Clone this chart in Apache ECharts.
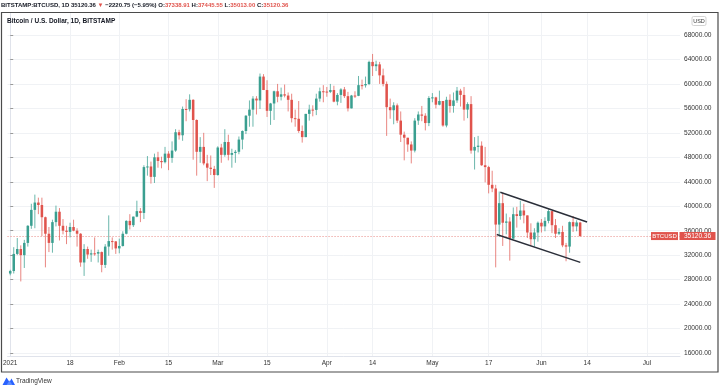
<!DOCTYPE html>
<html><head><meta charset="utf-8">
<script src="https://cdn.jsdelivr.net/npm/echarts@6/dist/echarts.min.js"></script>
<style>html,body{margin:0;padding:0;background:#fff}#c{width:720px;height:390px}</style>
</head><body><div id="c"></div>
<script>
// Daily candles starting 2021-01-01, each row: [open, high, low, close]
const jan = [
[28990,29600,28700,29400],[29400,33300,29000,32200],[32200,34800,32000,33000],[33000,33600,27700,32000],
[32000,34500,29900,34000],[34000,36900,33400,36800],[36800,40400,36300,39400],[39400,41900,36400,40600],
[40600,41400,38700,40200],[40200,41400,35100,38200],[38200,38300,30000,35500],[35500,36600,32500,34000],
[34000,37800,32400,37400],[37400,40100,36700,39100],[39100,39700,34400,36800],[36800,37900,35400,36000],
[36000,36800,33800,35800],[35800,37300,34900,36600],[36600,37800,35900,36000],[36000,36400,33400,35500],
[35500,35600,30100,30800],[30800,33800,28600,33000],[33000,33400,31400,32100],[32100,32900,30900,32300],
[32300,34900,31900,32250],[32250,32900,30800,32500],[32500,32600,29200,30400],[30400,33800,29900,33400],
[33400,38500,31900,34300],[34300,34900,32900,34250],[34250,34300,32200,33100]];
const feb = [
[33100,34700,32300,33500],[33500,35900,33400,35500],[35500,37700,35400,37600],[37600,38700,36200,36900],
[36900,38300,36600,38300],[38300,40900,38200,39200],[39200,39700,37400,38900],[38900,46700,37900,46400],
[46400,48200,45000,46500],[46500,47300,43700,44800],[44800,48600,43800,48000],[48000,48900,46300,47400],
[47400,48100,46200,47200],[47200,49700,47000,48600],[48600,49000,45900,47900],[47900,50600,47100,49100],
[49100,52600,48900,52100],[52100,52500,50900,51600],[51600,56300,50700,55900],[55900,57500,53900,55850],
[55850,58300,55500,57400],[57400,57500,47600,54100],[54100,54200,45000,48900],[48900,51300,47100,49700],
[49700,52000,46700,47000],[47000,48400,44100,46300],[46300,48300,45100,46100],[46100,46600,43000,45100]];
const mar = [
[45100,49800,45000,49600],[49600,50200,47100,48400],[48400,52600,48100,50500],[50500,51700,47500,48400],
[48400,49400,46300,48700],[48700,49200,47100,48900],[48900,51400,48500,50900],[50900,52400,49300,52300],
[52300,54900,51800,54800],[54800,57300,53000,55800],[55800,58000,53000,57600],[57600,58000,55000,57300],
[57300,61700,55900,61200],[61200,61600,59000,59000],[59000,60600,54600,55600],[55600,56900,53300,56800],
[56800,58900,54100,58800],[58800,60000,57000,57900],[57900,59400,57300,58300],[58300,59900,57800,58100],
[58100,58600,55500,57400],[57400,58400,53700,54400],[54400,55800,53000,54300],[54300,57200,52000,52300],
[52300,53200,50400,51300],[51300,55100,51300,55100],[55100,56600,54000,55800],[55800,56500,54700,55750],
[55750,58400,54900,57600],[57600,59400,57100,58800],[58800,59800,57000,58750]];
const apr = [
[58750,59500,57900,58700],[58700,60000,58500,59000],[59000,59700,57000,57100],[57100,58500,56500,58200],
[58200,59300,56900,59100],[59100,59500,57700,58000],[58000,58700,55500,56000],[56000,58200,56000,58100],
[58100,58800,57700,58050],[58050,61300,58000,59800],[59800,60700,59100,59770],[59770,61200,59400,59990],
[59990,63800,59800,63600],[63600,64900,61300,62900],[62900,63800,62100,63200],[63200,63600,60000,61400],
[61400,62500,59600,60000],[60000,60400,51500,56200],[56200,57600,54300,55700],[55700,57000,53400,56500],
[56500,56800,53600,54000],[54000,55500,50500,51700],[51700,52200,47500,51200],[51200,51200,48900,50100],
[50100,50600,47000,49100],[49100,54400,48800,54000],[54000,55500,53300,55000],[55000,56400,53900,54800],
[54800,55200,52400,53600],[53600,58000,53100,57700]];
const may = [
[57700,58500,57000,57800],[57800,57900,56000,56600],[56600,58900,56500,57200],[57200,57200,53000,53200],
[53200,57900,52900,57400],[57400,58300,55300,56400],[56400,58600,55300,57300],[57300,59500,56900,58900],
[58900,59200,56300,58200],[58200,59500,54000,55800],[55800,57000,54400,56700],[56700,58000,48600,49100],
[49100,51300,46000,49700],[49700,51500,48800,49900],[49900,50600,46600,46700],[46700,49700,43900,46400],
[46400,46600,42100,43500],[43500,45800,42300,42900],[42900,43500,30000,37000],[37000,42400,35000,40500],
[40500,42200,33500,37300],[37300,38800,35400,37500],[37500,38200,31100,34700],[34700,39800,34600,38700],
[38700,39900,36500,38400],[38400,40900,37800,39300],[39300,40400,37200,38500],[38500,38500,34800,35700],
[35700,37200,33600,34600],[34600,36400,33400,35700],[35700,37500,34200,37300]];
const jun = [
[37300,37900,35700,36700],[36700,38200,35900,37600],[37600,39500,37200,39200],[39200,39200,35600,36900],
[36900,37900,34800,35500],[35500,36400,35300,35800],[35800,36800,33300,33600],[33600,34000,31000,33400],
[33400,37500,32400,37400],[37400,38400,35800,36700],[36700,37700,35900,37341.11],[37338.91,37445.55,35013.00,35120.36]];

// Time axis tick labels (day index from 2021-01-01)
const tickDays = [0,17,31,45,59,73,90,103,120,136,151,164,181];
const tickLabels = ['2021','18','Feb','15','Mar','15','Apr','14','May','17','Jun','14','Jul'];
// Price axis ticks
const priceTicks = [16000,20000,24000,28000,32000,36000,40000,44000,48000,52000,56000,60000,64000,68000];
// Drawn channel lines: [day index, price]
const channelUpper = [[139.3,42280],[163.97,37420]];
const channelLower = [[138.3,35375],[162.05,30830]];

const candles = [].concat(jan,feb,mar,apr,may,jun);
const seriesData = candles.map((r,i)=>[i, r[0], r[1], r[2], r[3]]);
const last = candles[candles.length-1];
const prev = candles[candles.length-2];
const lastClose = last[3];
const chg = lastClose - prev[3];
const pct = chg/prev[3]*100;

const UP = '#3a9f90', DOWN = '#e0534c';
const UPW = 'rgba(58,159,144,0.75)', DOWNW = 'rgba(224,83,76,0.7)';
const FONT = 'Liberation Sans, Arial, sans-serif';
const HF = 6.0;

const chart = echarts.init(document.getElementById('c'), null, {renderer:'canvas'});
const fmt = v => v.toFixed(2);
const minus = s => s.replace('-', '\u2212');

const option = {
  animation:false,
  backgroundColor:'#ffffff',
  title:[
    {left:1, top:1, padding:0,
     text:'{b|BITSTAMP:BTCUSD, 1D} {n|'+fmt(lastClose)+'} {r|\u25BC} {n|'+minus(fmt(chg))+' ('+minus(pct.toFixed(2))+'%)} '+
          '{b|O:}{r|'+fmt(last[0])+'} {b|H:}{r|'+fmt(last[1])+'} {b|L:}{r|'+fmt(last[2])+'} {b|C:}{r|'+fmt(last[3])+'}',
     textStyle:{fontFamily:FONT, fontSize:HF, lineHeight:8,
       rich:{b:{fontFamily:FONT,fontSize:HF,fontWeight:'bold',color:'#131722'},
             n:{fontFamily:FONT,fontSize:HF,color:'#131722'},
             r:{fontFamily:FONT,fontSize:HF,color:'#e0534c'}}}},
    {left:7, top:17.5, padding:0, text:'Bitcoin / U.S. Dollar, 1D, BITSTAMP',
     textStyle:{fontFamily:FONT, fontSize:6.5, fontWeight:'bold', color:'#131722', lineHeight:8}}
  ],
  grid:{left:2, right:40, top:13, bottom:34, containLabel:false},
  xAxis:{type:'value', min:-0.761, max:190.39,
    axisLine:{show:true, lineStyle:{color:'#e0e3eb'}},
    axisTick:{show:false, customValues:tickDays},
    axisLabel:{customValues:tickDays, fontFamily:FONT, fontSize:6.5, color:'#333', margin:4,
      formatter:v=>{const k=tickDays.indexOf(v); return k>=0?tickLabels[k]:'';}},
    splitLine:{show:true, lineStyle:{color:'#f0f2f5', width:1}}},
  yAxis:{type:'value', position:'right', min:15506, max:71598, scale:true,
    axisLine:{show:true, lineStyle:{color:'#e0e3eb'}},
    axisTick:{show:true, length:3, customValues:priceTicks, lineStyle:{color:'#999'}},
    axisLabel:{customValues:priceTicks, fontFamily:FONT, fontSize:6.6, color:'#333', margin:4,
      formatter:v=>v.toFixed(2)},
    splitLine:{show:true, lineStyle:{color:'#f0f2f5', width:1}}},
  series:[
    {type:'custom', name:'BTCUSD', data:seriesData, z:5,
     encode:{x:0, y:[1,2,3,4]},
     renderItem:(params, api)=>{
       const x=api.value(0), o=api.value(1), h=api.value(2), l=api.value(3), c=api.value(4);
       const pO=api.coord([x,o]), pC=api.coord([x,c]), pH=api.coord([x,h]), pL=api.coord([x,l]);
       const up=c>=o;
       const w=api.size([1,0])[0]*0.72;
       const xc=pO[0];
       const top=Math.min(pO[1],pC[1]), bot=Math.max(pO[1],pC[1]);
       return {type:'group', children:[
         {type:'line', shape:{x1:xc,y1:pH[1],x2:xc,y2:pL[1]}, style:{stroke:up?UPW:DOWNW, lineWidth:1}},
         {type:'rect', shape:{x:xc-w/2, y:top, width:w, height:Math.max(bot-top,1)}, style:{fill:up?UP:DOWN}}
       ]};
     },
     markLine:{silent:true, symbol:['none','none'], label:{show:false},
       lineStyle:{color:'#e88a86', type:[1,2], width:1},
       data:[{yAxis:lastClose}]}
    },
    {type:'line', data:channelUpper, symbol:'none', z:6, lineStyle:{color:'#2a2e39', width:1.4}},
    {type:'line', data:channelLower, symbol:'none', z:6, lineStyle:{color:'#2a2e39', width:1.4}}
  ]
};
chart.setOption(option);

const yLast = chart.convertToPixel({yAxisIndex:0}, lastClose);
chart.setOption({graphic:[
  {type:'rect', z:100, shape:{x:1.5, y:12.5, width:716.5, height:359.5}, style:{fill:'none', stroke:'#4b4b4b', lineWidth:1.2}},
  {type:'rect', z:50, shape:{x:692, y:16.5, width:14, height:9, r:1.5}, style:{fill:'#fff', stroke:'#c8c8c8', lineWidth:0.8}},
  {type:'text', z:51, x:699, y:21, style:{text:'USD', fontFamily:FONT, fontSize:5.5, fill:'#333', align:'center', verticalAlign:'middle'}},
  {type:'rect', z:50, shape:{x:651, y:yLast-4, width:27, height:8}, style:{fill:'#e0534c'}},
  {type:'text', z:51, x:664.5, y:yLast, style:{text:'BTCUSD', fontFamily:FONT, fontSize:6, fill:'#fff', align:'center', verticalAlign:'middle'}},
  {type:'rect', z:50, shape:{x:679.5, y:yLast-4, width:36, height:8}, style:{fill:'#e0534c'}},
  {type:'text', z:51, x:697.5, y:yLast, style:{text:fmt(lastClose), fontFamily:FONT, fontSize:6.5, fill:'#fff', align:'center', verticalAlign:'middle'}},
  {type:'polygon', z:50, shape:{points:[[2.5,385],[6.5,377.5],[9.5,382],[11.5,378.5],[15,385]]}, style:{fill:'#2962ff'}},
  {type:'polygon', z:51, shape:{points:[[6.5,385],[9.5,380.5],[12.5,385]]}, style:{fill:'#5d8cff'}},
  {type:'text', z:50, x:16, y:381.5, style:{text:'TradingView', fontFamily:FONT, fontSize:6.5, fill:'#333', verticalAlign:'middle'}}
]});
</script>
</body></html>
